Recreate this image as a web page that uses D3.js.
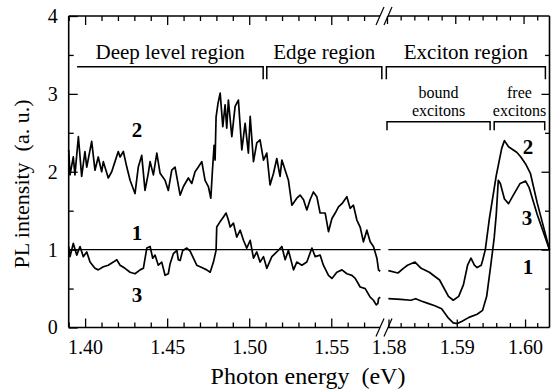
<!DOCTYPE html>
<html>
<head>
<meta charset="utf-8">
<script src="https://cdn.jsdelivr.net/npm/d3@7"></script>
<style>
  html, body { margin: 0; padding: 0; background: #fff; }
  svg text { font-family: "Liberation Serif", Tinos, "Times New Roman", Times, "DejaVu Serif", serif; fill: #000; }
</style>
</head>
<body>
<div id="chart"></div>
<script>
// spectra: [photon energy (eV), PL intensity (a.u.)]
const curve2Left = [
  [1.3900, 2.28], [1.3908, 1.96], [1.3928, 2.19], [1.3938, 1.96], [1.3959, 2.45],
  [1.3979, 1.94], [1.3999, 2.26], [1.4010, 2.06], [1.4040, 2.39], [1.4060, 2.02],
  [1.4080, 2.19], [1.4101, 2.00], [1.4111, 2.13], [1.4141, 1.92], [1.4162, 2.00],
  [1.4182, 2.13], [1.4202, 2.26], [1.4213, 2.19], [1.4233, 2.26], [1.4254, 2.06],
  [1.4274, 1.89], [1.4304, 1.72], [1.4324, 2.06], [1.4345, 2.21], [1.4365, 1.76],
  [1.4385, 1.98], [1.4396, 2.13], [1.4416, 1.96], [1.4437, 2.24], [1.4457, 1.98],
  [1.4487, 1.89], [1.4507, 1.76], [1.4528, 2.02], [1.4548, 2.06], [1.4579, 1.70],
  [1.4599, 1.81], [1.4629, 1.92], [1.4650, 1.85], [1.4670, 2.00], [1.4690, 2.06],
  [1.4711, 2.13], [1.4731, 1.89], [1.4751, 1.81], [1.4766, 1.66], [1.4776, 2.02],
  [1.4786, 2.34], [1.4792, 2.15], [1.4798, 2.70], [1.4810, 2.88], [1.4823, 3.01],
  [1.4839, 2.58], [1.4853, 2.86], [1.4863, 2.56], [1.4873, 2.92], [1.4894, 2.45],
  [1.4914, 2.84], [1.4934, 2.92], [1.4955, 2.28], [1.4975, 2.62], [1.4995, 2.24],
  [1.5006, 2.71], [1.5026, 2.13], [1.5046, 2.37], [1.5066, 2.41], [1.5087, 2.15],
  [1.5107, 2.24], [1.5127, 1.83], [1.5148, 1.98], [1.5168, 2.17], [1.5188, 1.94],
  [1.5199, 2.15], [1.5219, 2.02], [1.5239, 1.89], [1.5260, 1.57], [1.5290, 1.66],
  [1.5310, 1.70], [1.5331, 1.64], [1.5351, 1.51], [1.5371, 1.64], [1.5391, 1.74],
  [1.5412, 1.68], [1.5432, 1.47], [1.5463, 1.47], [1.5483, 1.23], [1.5504, 1.40],
  [1.5524, 1.47], [1.5544, 1.55], [1.5565, 1.59], [1.5595, 1.68], [1.5615, 1.53],
  [1.5635, 1.57], [1.5656, 1.38], [1.5676, 1.29], [1.5696, 1.10], [1.5717, 1.25],
  [1.5737, 1.10], [1.5757, 1.04], [1.5778, 0.89], [1.5788, 0.74], [1.5798, 0.72]
];

const curve3Left = [
  [1.3900, 1.04], [1.3908, 0.91], [1.3928, 1.08], [1.3949, 0.93], [1.3969, 1.04],
  [1.3989, 0.91], [1.4010, 0.97], [1.4030, 0.84], [1.4060, 0.76], [1.4080, 0.74],
  [1.4111, 0.78], [1.4141, 0.80], [1.4172, 0.84], [1.4193, 0.87], [1.4213, 0.80],
  [1.4243, 0.76], [1.4274, 0.71], [1.4304, 0.69], [1.4335, 0.74], [1.4355, 0.76],
  [1.4376, 1.02], [1.4396, 1.04], [1.4412, 0.89], [1.4426, 0.93], [1.4446, 0.80],
  [1.4467, 0.84], [1.4487, 0.67], [1.4507, 0.69], [1.4518, 0.82], [1.4538, 0.95],
  [1.4559, 0.99], [1.4568, 0.87], [1.4579, 0.86], [1.4595, 0.99], [1.4620, 1.02],
  [1.4640, 0.98], [1.4660, 0.89], [1.4680, 0.80], [1.4711, 0.77], [1.4741, 0.74],
  [1.4762, 0.71], [1.4782, 0.84], [1.4798, 0.99], [1.4802, 1.29], [1.4823, 1.36],
  [1.4843, 1.42], [1.4859, 1.47], [1.4873, 1.38], [1.4884, 1.29], [1.4904, 1.34],
  [1.4924, 1.16], [1.4945, 1.25], [1.4965, 1.12], [1.4985, 1.02], [1.5006, 1.12],
  [1.5026, 0.89], [1.5046, 0.97], [1.5066, 0.84], [1.5087, 0.91], [1.5107, 0.76],
  [1.5138, 0.91], [1.5168, 0.97], [1.5199, 1.04], [1.5219, 0.87], [1.5239, 0.99],
  [1.5270, 0.74], [1.5290, 0.84], [1.5321, 0.80], [1.5351, 0.84], [1.5382, 1.02],
  [1.5402, 0.91], [1.5432, 0.93], [1.5452, 0.80], [1.5483, 0.67], [1.5504, 0.63],
  [1.5534, 0.71], [1.5565, 0.74], [1.5595, 0.69], [1.5626, 0.67], [1.5646, 0.63],
  [1.5676, 0.52], [1.5707, 0.50], [1.5737, 0.39], [1.5757, 0.35], [1.5774, 0.29],
  [1.5784, 0.31], [1.5788, 0.37], [1.5798, 0.39]
];

const curve2Right = [
  [1.5802, 0.73], [1.5816, 0.70], [1.5824, 0.76], [1.5830, 0.80], [1.5841, 0.84],
  [1.5850, 0.76], [1.5862, 0.71], [1.5877, 0.61], [1.5890, 0.40], [1.5897, 0.35],
  [1.5905, 0.40], [1.5912, 0.55], [1.5918, 0.80], [1.5923, 0.89], [1.5928, 0.80],
  [1.5932, 0.77], [1.5938, 0.80], [1.5940, 0.86], [1.5944, 1.00], [1.5950, 1.40],
  [1.5960, 1.95], [1.5968, 2.30], [1.5972, 2.40], [1.5978, 2.32], [1.5985, 2.28],
  [1.5990, 2.25], [1.5996, 2.19], [1.6003, 2.10], [1.6010, 1.98], [1.6020, 1.60],
  [1.6038, 1.00]
];

const curve3Right = [
  [1.5802, 0.37], [1.5820, 0.36], [1.5835, 0.35], [1.5842, 0.37], [1.5850, 0.34],
  [1.5860, 0.31], [1.5870, 0.28], [1.5880, 0.24], [1.5890, 0.12], [1.5897, 0.06],
  [1.5903, 0.05], [1.5910, 0.08], [1.5920, 0.13], [1.5932, 0.17], [1.5940, 0.22],
  [1.5946, 0.40], [1.5952, 0.80], [1.5957, 1.15], [1.5960, 1.45], [1.5963, 1.89],
  [1.5966, 1.85], [1.5972, 1.65], [1.5978, 1.59], [1.5985, 1.70], [1.5995, 1.85],
  [1.6003, 1.88], [1.6008, 1.80], [1.6020, 1.45], [1.6038, 1.00]
];

// reference spectrum 1 is flat
const curve1Left = [[1.39, 1.0], [1.58, 1.0]];
const curve1Right = [[1.5802, 1.0], [1.6038, 1.0]];

// axes
const leftMajorTicks = [1.40, 1.45, 1.50, 1.55];
const leftMinorTicks = [1.39, 1.41, 1.42, 1.43, 1.44, 1.46, 1.47, 1.48, 1.49, 1.51, 1.52, 1.53, 1.54, 1.56, 1.57];
const rightMajorTicks = [1.58, 1.59, 1.60];
const rightMinorTicks = [1.582, 1.584, 1.586, 1.588, 1.592, 1.594, 1.596, 1.598, 1.602];
const yMajorTicks = [0, 1, 2, 3, 4];
const yMinorTicks = [0.5, 1.5, 2.5, 3.5];

// region brackets (energy span, scale side)
const regionNames = ['Deep level region', 'Edge region', 'Exciton region'];
const regionSpans = [[1.3951, 1.5085, 'L'], [1.5107, 1.5808, 'L'], [1.5799, 1.6032, 'R']];
const regionEnds = [[false, true], [true, true], [true, true]];
const subRegionNames = [['bound', 'excitons'], ['free', 'excitons']];
const subRegionSpans = [[1.5800, 1.5951], [1.5957, 1.6031]];

const W = 552, H = 391;
const plot = { left: 68.7, right: 549.5, top: 16, bottom: 327.5, breakL: 380.5, breakR: 387 };
const serif = '"Liberation Serif", Tinos, "Times New Roman", Times, "DejaVu Serif", serif';

const svg = d3.select('#chart').append('svg')
  .attr('width', W).attr('height', H);

const xL = d3.scaleLinear().domain([1.39, 1.58]).range([plot.left, plot.breakL]);
const xR = d3.scaleLinear().domain([1.58, 1.6038]).range([plot.breakR, plot.right]);
const y = d3.scaleLinear().domain([0, 4]).range([plot.bottom, plot.top]);

// frame (x axis is broken between the two scales)
const frame = svg.append('g').attr('stroke', '#000').attr('stroke-width', 1.6).attr('fill', 'none');
frame.append('line').attr('x1', plot.left).attr('x2', plot.left).attr('y1', plot.top).attr('y2', plot.bottom);
frame.append('line').attr('x1', plot.right).attr('x2', plot.right).attr('y1', plot.top).attr('y2', plot.bottom);
[plot.top, plot.bottom].forEach((yy) => {
  frame.append('line').attr('x1', plot.left).attr('x2', 380).attr('y1', yy).attr('y2', yy);
  frame.append('line').attr('x1', 388).attr('x2', plot.right).attr('y1', yy).attr('y2', yy);
  // break marks
  [0, 8].forEach((dx) => {
    frame.append('line')
      .attr('stroke-width', 1.2)
      .attr('x1', 376 + dx).attr('y1', yy + 9)
      .attr('x2', 384 + dx).attr('y2', yy - 9);
  });
});

function tickAxis(axis, g) {
  g.call(axis);
  g.select('.domain').remove();
  g.selectAll('.tick line').attr('stroke', '#000').attr('stroke-width', 1.3);
  g.selectAll('text').attr('font-family', serif).attr('font-size', 20).attr('fill', '#000');
}

const fmt = d3.format('.2f');

// bottom axis, left part
tickAxis(d3.axisBottom(xL).tickValues(leftMajorTicks).tickSizeInner(-9).tickSizeOuter(0)
  .tickPadding(12).tickFormat(fmt),
  svg.append('g').attr('transform', `translate(0,${plot.bottom})`));
tickAxis(d3.axisBottom(xL).tickValues(leftMinorTicks).tickSizeInner(-5).tickSizeOuter(0).tickFormat(''),
  svg.append('g').attr('transform', `translate(0,${plot.bottom})`));
// bottom axis, right part
tickAxis(d3.axisBottom(xR).tickValues(rightMajorTicks).tickSizeInner(-8).tickSizeOuter(0)
  .tickPadding(12).tickFormat(fmt),
  svg.append('g').attr('transform', `translate(1.5,${plot.bottom})`));
tickAxis(d3.axisBottom(xR).tickValues(rightMinorTicks).tickSizeInner(-4.5).tickSizeOuter(0).tickFormat(''),
  svg.append('g').attr('transform', `translate(0,${plot.bottom})`));

// top axis mirrors the bottom ticks
[[xL, leftMajorTicks, -9], [xL, leftMinorTicks, -5], [xR, rightMajorTicks, -8], [xR, rightMinorTicks, -4.5]]
  .forEach(([sc, vals, len]) => {
    tickAxis(d3.axisTop(sc).tickValues(vals).tickSizeInner(len).tickSizeOuter(0).tickFormat(''),
      svg.append('g').attr('transform', `translate(0,${plot.top})`));
  });

// y axis
tickAxis(d3.axisLeft(y).tickValues(yMajorTicks).tickSizeInner(-9).tickSizeOuter(0)
  .tickPadding(11).tickFormat(d3.format('d')),
  svg.append('g').attr('transform', `translate(${plot.left},0)`));
tickAxis(d3.axisLeft(y).tickValues(yMinorTicks).tickSizeInner(-5).tickSizeOuter(0).tickFormat(''),
  svg.append('g').attr('transform', `translate(${plot.left},0)`));
tickAxis(d3.axisRight(y).tickValues(yMajorTicks.slice(1, 4)).tickSizeInner(-8).tickSizeOuter(0).tickFormat(''),
  svg.append('g').attr('transform', `translate(${plot.right},0)`));
tickAxis(d3.axisRight(y).tickValues(yMinorTicks).tickSizeInner(-4.5).tickSizeOuter(0).tickFormat(''),
  svg.append('g').attr('transform', `translate(${plot.right},0)`));

// axis titles
svg.append('text')
  .attr('x', 308).attr('y', 384)
  .attr('text-anchor', 'middle')
  .attr('font-size', 24)
  .attr('xml:space', 'preserve')
  .text('Photon energy  (eV)');

svg.append('text')
  .attr('transform', 'translate(29,184) rotate(-90)')
  .attr('text-anchor', 'middle')
  .attr('font-size', 22)
  .attr('xml:space', 'preserve')
  .text('PL intensity  (a. u.)');

// spectra
const lineL = d3.line().x((d) => xL(d[0])).y((d) => y(d[1]));
const lineR = d3.line().x((d) => xR(d[0])).y((d) => y(d[1]));
const curves = svg.append('g').attr('fill', 'none').attr('stroke', '#000')
  .attr('stroke-width', 1.7).attr('stroke-linejoin', 'round');
curves.append('path').attr('d', lineL(curve1Left)).attr('stroke-width', 1.4);
curves.append('path').attr('d', lineR(curve1Right)).attr('stroke-width', 1.4);
curves.append('path').attr('d', lineL(curve2Left));
curves.append('path').attr('d', lineL(curve3Left));
curves.append('path').attr('d', lineR(curve2Right));
curves.append('path').attr('d', lineR(curve3Right));

// region brackets
const brackets = svg.append('g').attr('fill', 'none').attr('stroke', '#000').attr('stroke-width', 1.5);
function bracket(x1, x2, yy, drop, ends) {
  const p = d3.path();
  if (ends[0]) { p.moveTo(x1, yy + drop); p.lineTo(x1, yy); } else { p.moveTo(x1, yy); }
  p.lineTo(x2, yy);
  if (ends[1]) p.lineTo(x2, yy + drop);
  brackets.append('path').attr('d', p.toString());
}

regionSpans.forEach(([a, b, side], i) => {
  const sc = side === 'L' ? xL : xR;
  const x1 = sc(a), x2 = sc(b);
  bracket(x1, x2, 66.7, 12.5, regionEnds[i]);
  svg.append('text')
    .attr('x', (x1 + x2) / 2).attr('y', 59)
    .attr('text-anchor', 'middle')
    .attr('font-size', 21)
    .text(regionNames[i]);
});

subRegionSpans.forEach(([a, b], i) => {
  const x1 = xR(a), x2 = xR(b);
  bracket(x1, x2, 121.7, 8.5, [true, true]);
  subRegionNames[i].forEach((word, k) => {
    svg.append('text')
      .attr('x', (x1 + x2) / 2).attr('y', k === 0 ? 98 : 116)
      .attr('text-anchor', 'middle')
      .attr('font-size', 16)
      .text(word);
  });
});

// curve numbers
const curveLabels = [
  ['2', 137, 137], ['1', 137, 240], ['3', 137, 302],
  ['2', 528, 153.5], ['3', 527, 225], ['1', 528, 273.5]
];
svg.append('g').selectAll('text')
  .data(curveLabels)
  .enter()
  .append('text')
  .attr('x', (d) => d[1]).attr('y', (d) => d[2])
  .attr('text-anchor', 'middle')
  .attr('font-size', 21)
  .attr('font-weight', 'bold')
  .text((d) => d[0]);
</script>
</body>
</html>
